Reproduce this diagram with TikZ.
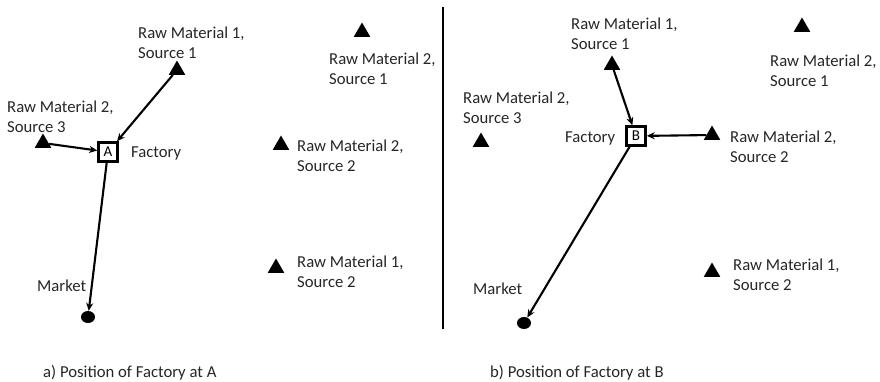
\documentclass[tikz,border=0pt]{standalone}
\usepackage{fontspec}
\setmainfont{Carlito}
\usetikzlibrary{shapes.geometric,arrows.meta}

\begin{document}
\begin{tikzpicture}[x=1pt,y=-1pt,
  lbl/.style={anchor=base west,inner sep=0pt,align=left,text=black!85,
    font=\fontsize{16.7}{20}\selectfont},
  src/.style={regular polygon,regular polygon sides=3,fill=black,
    minimum size=19pt,inner sep=0pt},
  plant/.style={draw,line width=2.4pt,minimum size=19pt,inner sep=0pt,
    font=\fontsize{15}{18}\selectfont},
  mkt/.style={ellipse,fill=black,minimum width=14pt,minimum height=12pt,inner sep=0pt},
  flow/.style={line width=2.1pt,-{Stealth[length=8pt,width=7pt]}}
]
\useasboundingbox (0,0) rectangle (880,381);

% ---------- panel a: factory at A ----------
\node[src] (a11) at (177,70) {};
\node[src] (a21) at (362,32) {};
\node[src] (a23) at (43,143) {};
\node[src] (a22) at (281,145) {};
\node[src] (a12) at (276,268) {};
\node[plant] (A) at (108,152) {A};
\node[mkt] (ma) at (88,317) {};

% two-line labels: base anchor sits on the last line
\node[lbl] (la11) at (138,58.5) {Raw Material 1,\\Source 1};
\node[lbl] (la21) at (329,84) {Raw Material 2,\\Source 1};
\node[lbl] (la23) at (7,132.5) {Raw Material 2,\\Source 3};
\node[lbl] (lfa) at (131,157.5) {Factory};
\node[lbl] (la22) at (297,171.5) {Raw Material 2,\\Source 2};
\node[lbl] (la12) at (297,287.5) {Raw Material 1,\\Source 2};
\node[lbl] (lma) at (37,291.5) {Market};
\node[lbl] (capa) at (43,377.5) {a) Position of Factory at A};

\draw[flow] (a11) -- (A);
\draw[flow] (a23) -- (A);
\draw[flow] (A) -- (ma);

% ---------- divider ----------
\coordinate (dtop) at (443,7);
\coordinate (dbot) at (443,329);
\draw[line width=2.6pt] (dtop) -- (dbot);

% ---------- panel b: factory at B ----------
\node[src] (b11) at (612,65) {};
\node[src] (b21) at (802,27) {};
\node[src] (b23) at (481,142) {};
\node[src] (b22) at (712,135) {};
\node[src] (b12) at (712,272) {};
\node[plant] (B) at (636,136) {B};
\node[mkt] (mb) at (524,323) {};

\node[lbl] (lb11) at (571,49.5) {Raw Material 1,\\Source 1};
\node[lbl] (lb21) at (770,86.5) {Raw Material 2,\\Source 1};
\node[lbl] (lb23) at (463,123.5) {Raw Material 2,\\Source 3};
\node[lbl] (lfb) at (565,142.5) {Factory};
\node[lbl] (lb22) at (730,162) {Raw Material 2,\\Source 2};
\node[lbl] (lb12) at (733,290) {Raw Material 1,\\Source 2};
\node[lbl] (lmb) at (473,294.5) {Market};
\node[lbl] (capb) at (490,377.5) {b) Position of Factory at B};

\draw[flow] (b11) -- (B);
\draw[flow] (b22) -- (B);
\draw[flow] (B) -- (mb);
\end{tikzpicture}
\end{document}
